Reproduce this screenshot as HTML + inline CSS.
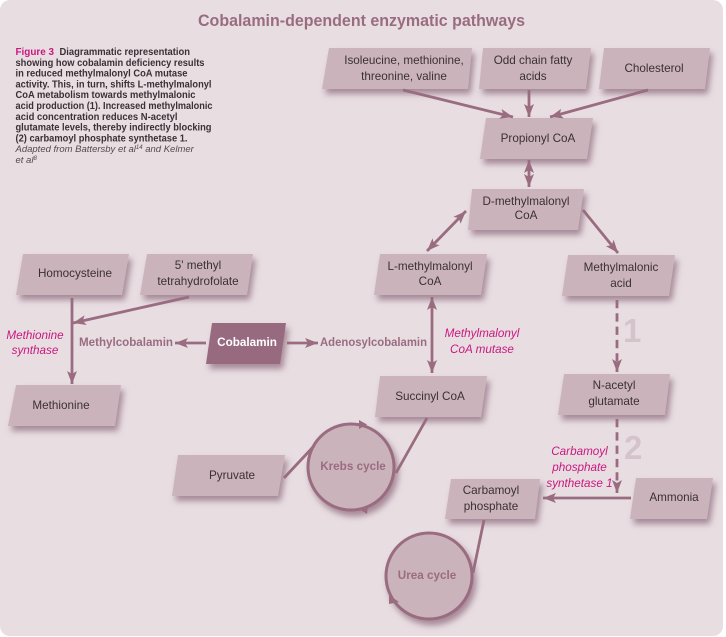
<!DOCTYPE html>
<html><head><meta charset="utf-8">
<style>
html,body{margin:0;padding:0;background:#fff;width:726px;height:637px;overflow:hidden}
svg{display:block;filter:blur(.3px)}
text{font-family:"Liberation Sans",sans-serif}
.b{fill:#3a3035;font-size:11.7px;text-anchor:middle}
.m{fill:#c9187f;font-size:11.7px;font-style:italic;text-anchor:middle}
.g{fill:#9a6c80;font-size:11.7px;font-weight:bold}
.f{fill:#3a3035;font-size:10px;font-weight:bold}
.i{fill:#55494f;font-size:9.5px;font-style:italic}
.l{stroke:#9a6c80;stroke-width:2.8;fill:none}
.p{fill:#cbb3bb;filter:url(#s)}
.n{fill:#d5c3cb;font-size:33px;font-weight:bold}
</style></head><body>
<svg width="726" height="637" viewBox="0 0 726 637" xmlns="http://www.w3.org/2000/svg">
<defs>
<filter id="s" x="-20%" y="-20%" width="150%" height="170%"><feDropShadow dx="3" dy="5" stdDeviation="3.2" flood-color="#7d5268" flood-opacity=".62"/></filter>
<marker id="a" markerUnits="userSpaceOnUse" markerWidth="14" markerHeight="12" refX="13" refY="6" orient="auto-start-reverse"><path d="M0,1 L13,6 L0,11 L3,6 Z" fill="#9a6c80"/></marker>
</defs>
<rect x="0" y="0" width="723" height="636" rx="10" fill="#e8dee2"/>

<text x="361.5" y="26" text-anchor="middle" font-size="16.5" font-weight="bold" fill="#9a6c80" textLength="327" lengthAdjust="spacingAndGlyphs">Cobalamin-dependent enzymatic pathways</text>

<text class="f" x="15.5" y="55" fill="#c9187f" style="fill:#c9187f" textLength="38.5" lengthAdjust="spacingAndGlyphs">Figure 3</text>
<text class="f" x="59.5" y="55" textLength="130.5" lengthAdjust="spacingAndGlyphs">Diagrammatic representation</text>
<text class="f" x="15.5" y="65.8" textLength="189" lengthAdjust="spacingAndGlyphs">showing how cobalamin deficiency results</text>
<text class="f" x="15.5" y="76.6" textLength="172" lengthAdjust="spacingAndGlyphs">in reduced methylmalonyl CoA mutase</text>
<text class="f" x="15.5" y="87.4" textLength="196" lengthAdjust="spacingAndGlyphs">activity. This, in turn, shifts L-methylmalonyl</text>
<text class="f" x="15.5" y="98.2" textLength="180" lengthAdjust="spacingAndGlyphs">CoA metabolism towards methylmalonic</text>
<text class="f" x="15.5" y="109" textLength="197" lengthAdjust="spacingAndGlyphs">acid production (1). Increased methylmalonic</text>
<text class="f" x="15.5" y="119.8" textLength="162" lengthAdjust="spacingAndGlyphs">acid concentration reduces N-acetyl</text>
<text class="f" x="15.5" y="130.6" textLength="196" lengthAdjust="spacingAndGlyphs">glutamate levels, thereby indirectly blocking</text>
<text class="f" x="15.5" y="141.4" textLength="172" lengthAdjust="spacingAndGlyphs">(2) carbamoyl phosphate synthetase 1.</text>
<text class="i" x="15.5" y="152.2">Adapted from Battersby et al<tspan font-size="6" dy="-3">14</tspan><tspan dy="3"> and Kelmer</tspan></text>
<text class="i" x="15.5" y="163">et al<tspan font-size="6" dy="-3">8</tspan></text>

<polygon class="p" points="329,48 472,48 468,89 322,89"/>
<polygon class="p" points="483,48 591,48 586,89 479,89"/>
<polygon class="p" points="604,48 710,48 705,89 599,89"/>
<polygon class="p" points="486,118 593,118 587,159 480,159"/>
<polygon class="p" points="472,189 584,189 578,230 468,230"/>
<polygon class="p" points="380,254 487,254 481,295 374,295"/>
<polygon class="p" points="568,255 675,255 669,296 562,296"/>
<polygon class="p" points="23,254 129,254 122,295 16,295"/>
<polygon class="p" points="147,254 253,254 247,295 140,295"/>
<polygon points="212,323 286,323 280,364 206,364" fill="#976b7f" filter="url(#s)"/>
<polygon class="p" points="16,385 121,385 115,426 8,426"/>
<polygon class="p" points="178,455 285,455 278,496 172,496"/>
<polygon class="p" points="380,376 487,376 481,417 375,417"/>
<polygon class="p" points="564,374 670,374 665,415 558,415"/>
<polygon class="p" points="451,479 540,479 535,519 445,519"/>
<polygon class="p" points="636,478 713,478 707,519 630,519"/>

<circle cx="351" cy="467" r="43" fill="#cbb3bb" stroke="#9a6c80" stroke-width="3" filter="url(#s)"/>
<circle cx="429" cy="576" r="43" fill="#cbb3bb" stroke="#9a6c80" stroke-width="3" filter="url(#s)"/>
<path d="M359,420 L367,424.5 L359,429 Z" fill="#9a6c80"/>
<path d="M368,505 L360,509.5 L367,514 Z" fill="#9a6c80"/>
<path d="M389,595 L399,602 L389,604 Z" fill="#9a6c80"/>

<line class="l" x1="403" y1="90" x2="513" y2="117" marker-end="url(#a)"/>
<line class="l" x1="529" y1="90" x2="529" y2="117" marker-end="url(#a)"/>
<line class="l" x1="648" y1="90" x2="550" y2="117" marker-end="url(#a)"/>
<line class="l" x1="529" y1="160" x2="529" y2="187" marker-start="url(#a)" marker-end="url(#a)"/>
<line class="l" x1="466" y1="211" x2="427" y2="251" marker-start="url(#a)" marker-end="url(#a)"/>
<line class="l" x1="583" y1="210" x2="618" y2="253" marker-end="url(#a)"/>
<line class="l" x1="617" y1="300" x2="617" y2="372" stroke-dasharray="8.3 5" marker-end="url(#a)"/>
<line class="l" x1="617" y1="419" x2="617" y2="493" stroke-dasharray="8.3 5" marker-end="url(#a)"/>
<line class="l" x1="631" y1="498" x2="543" y2="498" marker-end="url(#a)"/>
<line class="l" x1="484" y1="520" x2="473" y2="573"/>
<line class="l" x1="427" y1="418" x2="396" y2="473"/>
<line class="l" x1="284" y1="478" x2="314" y2="446"/>
<line class="l" x1="432" y1="297" x2="432" y2="373" marker-start="url(#a)" marker-end="url(#a)"/>
<line class="l" x1="72" y1="298" x2="72" y2="384" marker-end="url(#a)"/>
<line class="l" x1="189" y1="297" x2="73" y2="323" marker-end="url(#a)"/>
<line class="l" x1="206" y1="343" x2="175" y2="343" marker-end="url(#a)"/>
<line class="l" x1="287" y1="343" x2="318" y2="343" marker-end="url(#a)"/>

<text class="n" x="623" y="342">1</text>
<text class="n" x="624" y="459">2</text>

<text class="b" x="404" y="64">Isoleucine, methionine,</text>
<text class="b" x="404" y="80">threonine, valine</text>
<text class="b" x="533" y="64">Odd chain fatty</text>
<text class="b" x="533" y="80">acids</text>
<text class="b" x="654" y="72">Cholesterol</text>
<text class="b" x="538" y="142">Propionyl CoA</text>
<text class="b" x="526" y="205">D-methylmalonyl</text>
<text class="b" x="526" y="219">CoA</text>
<text class="b" x="430" y="270">L-methylmalonyl</text>
<text class="b" x="430" y="285">CoA</text>
<text class="b" x="621" y="271">Methylmalonic</text>
<text class="b" x="621" y="287">acid</text>
<text class="b" x="75" y="277">Homocysteine</text>
<text class="b" x="198" y="269">5' methyl</text>
<text class="b" x="198" y="285">tetrahydrofolate</text>
<text x="247" y="346" fill="#fff" font-size="11.7" font-weight="bold" text-anchor="middle">Cobalamin</text>
<text class="g" x="79" y="346" textLength="94" lengthAdjust="spacingAndGlyphs">Methylcobalamin</text>
<text class="g" x="320" y="346" textLength="107" lengthAdjust="spacingAndGlyphs">Adenosylcobalamin</text>
<text class="b" x="61" y="409">Methionine</text>
<text class="b" x="232" y="479">Pyruvate</text>
<text class="b" x="430" y="400">Succinyl CoA</text>
<text class="b" x="614" y="389">N-acetyl</text>
<text class="b" x="614" y="405">glutamate</text>
<text class="b" x="491" y="494">Carbamoyl</text>
<text class="b" x="491" y="510">phosphate</text>
<text class="b" x="674" y="501">Ammonia</text>
<text class="g" x="353" y="470" text-anchor="middle">Krebs cycle</text>
<text class="g" x="427" y="579" text-anchor="middle">Urea cycle</text>
<text class="m" x="35" y="339">Methionine</text>
<text class="m" x="35" y="354">synthase</text>
<text class="m" x="482" y="337">Methylmalonyl</text>
<text class="m" x="482" y="353">CoA mutase</text>
<text class="m" x="579.5" y="455">Carbamoyl</text>
<text class="m" x="579.5" y="471">phosphate</text>
<text class="m" x="579.5" y="487">synthetase 1</text>
</svg>
</body></html>
